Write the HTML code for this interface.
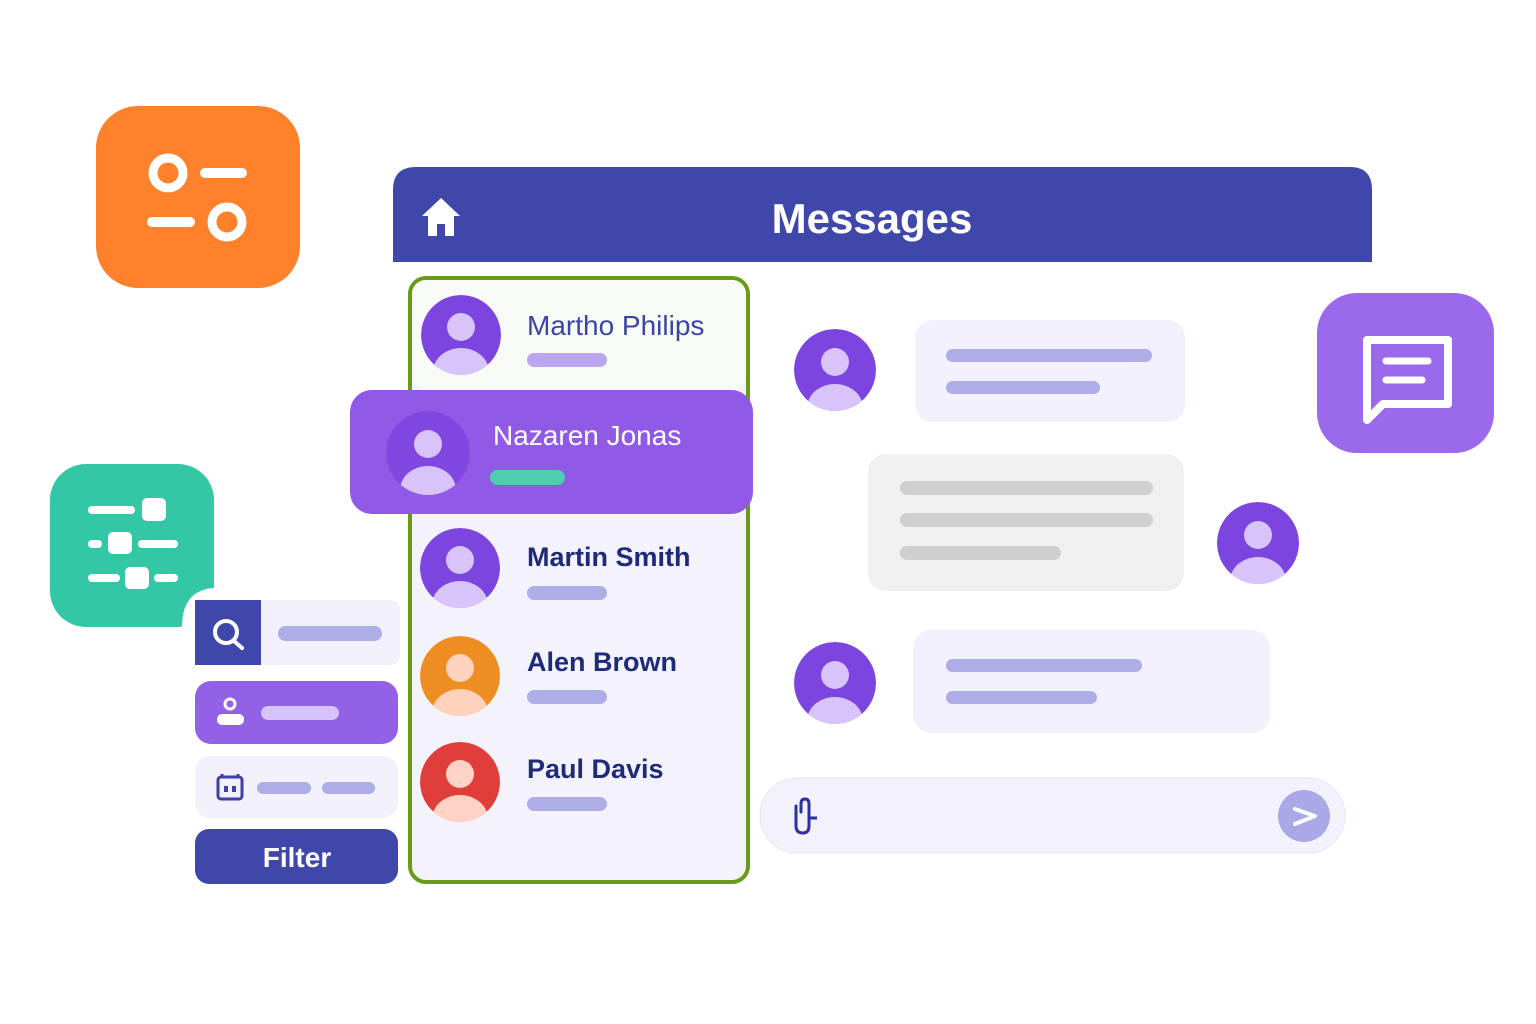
<!DOCTYPE html>
<html><head><meta charset="utf-8"><style>
html,body{margin:0;padding:0;background:#fff;width:1536px;height:1024px;overflow:hidden}
svg{display:block}
text{font-family:"Liberation Sans","DejaVu Sans",sans-serif}
</style></head><body>
<svg width="1536" height="1024" viewBox="0 0 1536 1024" xmlns="http://www.w3.org/2000/svg">
<defs>
<clipPath id="c1"><circle cx="461" cy="335" r="40"/></clipPath>
<clipPath id="c2"><circle cx="428" cy="453" r="42"/></clipPath>
<clipPath id="c3"><circle cx="460" cy="568" r="40"/></clipPath>
<clipPath id="c4"><circle cx="460" cy="676" r="40"/></clipPath>
<clipPath id="c5"><circle cx="460" cy="782" r="40"/></clipPath>
<clipPath id="c6"><circle cx="835" cy="370" r="41"/></clipPath>
<clipPath id="c7"><circle cx="1258" cy="543" r="41"/></clipPath>
<clipPath id="c8"><circle cx="835" cy="683" r="41"/></clipPath>
</defs>

<rect x="96" y="106" width="204" height="182" rx="42" fill="#FF812B"/>
<circle cx="168" cy="173" r="15" fill="none" stroke="#fff" stroke-width="9"/>
<line x1="205" y1="173" x2="242" y2="173" stroke="#fff" stroke-width="10" stroke-linecap="round"/>
<line x1="152" y1="222" x2="190" y2="222" stroke="#fff" stroke-width="10" stroke-linecap="round"/>
<circle cx="227" cy="222" r="15" fill="none" stroke="#fff" stroke-width="9"/>

<rect x="1317" y="293" width="177" height="160" rx="40" fill="#9B69EB"/>
<path d="M1367 420 V340 H1448 V404 H1383 Z" fill="none" stroke="#fff" stroke-width="8" stroke-linejoin="round"/>
<line x1="1386" y1="361" x2="1428" y2="361" stroke="#fff" stroke-width="7" stroke-linecap="round"/>
<line x1="1386" y1="380" x2="1422" y2="380" stroke="#fff" stroke-width="7" stroke-linecap="round"/>

<rect x="50" y="464" width="164" height="163" rx="36" fill="#34C7A6"/>
<line x1="92" y1="510" x2="131" y2="510" stroke="#fff" stroke-width="8" stroke-linecap="round"/>
<rect x="142" y="498" width="24" height="23" rx="5" fill="#fff"/>
<line x1="92" y1="544" x2="98" y2="544" stroke="#fff" stroke-width="8" stroke-linecap="round"/>
<rect x="108" y="532" width="24" height="22" rx="5" fill="#fff"/>
<line x1="142" y1="544" x2="174" y2="544" stroke="#fff" stroke-width="8" stroke-linecap="round"/>
<line x1="92" y1="578" x2="116" y2="578" stroke="#fff" stroke-width="8" stroke-linecap="round"/>
<rect x="125" y="567" width="24" height="22" rx="5" fill="#fff"/>
<line x1="158" y1="578" x2="174" y2="578" stroke="#fff" stroke-width="8" stroke-linecap="round"/>
<path d="M182 627 Q182 590 214 588 V627 Z" fill="#fff"/>

<rect x="195" y="600" width="205" height="65" rx="10" fill="#F1F0FB"/>
<path d="M195 600 H261 V665 H195 Z" fill="#3F47AA"/>
<circle cx="226" cy="632" r="11" fill="none" stroke="#fff" stroke-width="4"/>
<line x1="234" y1="641" x2="242" y2="648" stroke="#fff" stroke-width="4" stroke-linecap="round"/>
<rect x="278" y="626" width="104" height="15" rx="7.5" fill="#AEAEE6"/>
<rect x="195" y="681" width="203" height="63" rx="16" fill="#9261E6"/>
<circle cx="230" cy="704" r="5" fill="none" stroke="#fff" stroke-width="3"/>
<rect x="217" y="714" width="27" height="11" rx="5" fill="#fff"/>
<rect x="261" y="706" width="78" height="14" rx="7" fill="#D6C3FA"/>
<rect x="195" y="756" width="203" height="62" rx="16" fill="#F1F0FB"/>
<rect x="218" y="777" width="24" height="22" rx="3" fill="none" stroke="#3F3FA8" stroke-width="3"/>
<rect x="224" y="786" width="4" height="6" fill="#3F3FA8"/><rect x="232" y="786" width="4" height="6" fill="#3F3FA8"/>
<line x1="222" y1="774" x2="222" y2="778" stroke="#3F3FA8" stroke-width="3"/><line x1="238" y1="774" x2="238" y2="778" stroke="#3F3FA8" stroke-width="3"/>
<rect x="257" y="782" width="54" height="12" rx="6" fill="#AEAEE6"/>
<rect x="322" y="782" width="53" height="12" rx="6" fill="#AEAEE6"/>
<rect x="195" y="829" width="203" height="55" rx="14" fill="#3F47AA"/>
<text x="297" y="867" font-size="28" font-weight="bold" fill="#fff" text-anchor="middle">Filter</text>

<path d="M393 262 V190 Q393 167 416 167 H1350 Q1372 167 1372 190 V262 Z" fill="#3F47AA"/>
<path d="M441 198 L422 216 H428 V236 H437 V224 H445 V236 H454 V216 H460 Z" fill="#fff"/>
<text x="872" y="233" font-size="42" font-weight="bold" fill="#fff" text-anchor="middle">Messages</text>

<rect x="410" y="278" width="338" height="604" rx="16" fill="#F4F3FB" stroke="#6A9A1A" stroke-width="4"/>
<rect x="412" y="280" width="334" height="110" rx="14" fill="#F8FAF6"/>

<g clip-path="url(#c1)"><circle cx="461" cy="335" r="40" fill="#7C45E0"/><circle cx="461" cy="327" r="14" fill="#D8C4FA"/><ellipse cx="461" cy="372" rx="28" ry="24" fill="#D8C4FA"/></g>
<text x="527" y="335" font-size="28" fill="#3A45A5">Martho Philips</text>
<rect x="527" y="353" width="80" height="14" rx="7" fill="#B9A6EE"/>

<rect x="350" y="390" width="403" height="124" rx="22" fill="#9059E6"/>
<g clip-path="url(#c2)"><circle cx="428" cy="453" r="42" fill="#8048E0"/><circle cx="428" cy="444" r="14" fill="#D8C4FA"/><ellipse cx="428" cy="490" rx="28" ry="24" fill="#D8C4FA"/></g>
<text x="493" y="445" font-size="28" fill="#fff">Nazaren Jonas</text>
<rect x="490" y="470" width="75" height="15" rx="7.5" fill="#4ECDB1"/>

<g clip-path="url(#c3)"><circle cx="460" cy="568" r="40" fill="#7C45E0"/><circle cx="460" cy="560" r="14" fill="#D8C4FA"/><ellipse cx="460" cy="605" rx="28" ry="24" fill="#D8C4FA"/></g>
<text x="527" y="566" font-size="27" font-weight="bold" fill="#1E2A7A">Martin Smith</text>
<rect x="527" y="586" width="80" height="14" rx="7" fill="#AEAEE6"/>

<g clip-path="url(#c4)"><circle cx="460" cy="676" r="40" fill="#EE8E22"/><circle cx="460" cy="668" r="14" fill="#FFD2BE"/><ellipse cx="460" cy="713" rx="28" ry="24" fill="#FFD2BE"/></g>
<text x="527" y="671" font-size="27" font-weight="bold" fill="#1E2A7A">Alen Brown</text>
<rect x="527" y="690" width="80" height="14" rx="7" fill="#AEAEE6"/>

<g clip-path="url(#c5)"><circle cx="460" cy="782" r="40" fill="#E03E3A"/><circle cx="460" cy="774" r="14" fill="#FFD2C6"/><ellipse cx="460" cy="819" rx="28" ry="24" fill="#FFD2C6"/></g>
<text x="527" y="778" font-size="27" font-weight="bold" fill="#1E2A7A">Paul Davis</text>
<rect x="527" y="797" width="80" height="14" rx="7" fill="#AEAEE6"/>

<g clip-path="url(#c6)"><circle cx="835" cy="370" r="41" fill="#7C45E0"/><circle cx="835" cy="362" r="14" fill="#D8C4FA"/><ellipse cx="835" cy="408" rx="28" ry="24" fill="#D8C4FA"/></g>
<rect x="915" y="320" width="270" height="102" rx="18" fill="#F1F0FC"/>
<rect x="946" y="349" width="206" height="13" rx="6.5" fill="#AEAEE6"/>
<rect x="946" y="381" width="154" height="13" rx="6.5" fill="#AEAEE6"/>

<rect x="868" y="454" width="316" height="137" rx="18" fill="#F0F0F0"/>
<rect x="900" y="481" width="253" height="14" rx="7" fill="#CFCFCF"/>
<rect x="900" y="513" width="253" height="14" rx="7" fill="#CFCFCF"/>
<rect x="900" y="546" width="161" height="14" rx="7" fill="#CFCFCF"/>
<g clip-path="url(#c7)"><circle cx="1258" cy="543" r="41" fill="#7C45E0"/><circle cx="1258" cy="535" r="14" fill="#D8C4FA"/><ellipse cx="1258" cy="581" rx="28" ry="24" fill="#D8C4FA"/></g>

<g clip-path="url(#c8)"><circle cx="835" cy="683" r="41" fill="#7C45E0"/><circle cx="835" cy="675" r="14" fill="#D8C4FA"/><ellipse cx="835" cy="721" rx="28" ry="24" fill="#D8C4FA"/></g>
<rect x="913" y="630" width="357" height="103" rx="18" fill="#F1F0FC"/>
<rect x="946" y="659" width="196" height="13" rx="6.5" fill="#AEAEE6"/>
<rect x="946" y="691" width="151" height="13" rx="6.5" fill="#AEAEE6"/>

<rect x="760" y="778" width="585" height="75" rx="37" fill="#F2F1FC" stroke="#E8E6F6" stroke-width="1"/>
<path d="M801 812 V804 Q801 799 805 799 Q809 799 809 804 V826 Q809 833 803 833 Q796 833 796 826 V806" fill="none" stroke="#2F2FA0" stroke-width="3" stroke-linecap="round"/>
<line x1="810" y1="818" x2="817" y2="818" stroke="#2F2FA0" stroke-width="3"/>
<circle cx="1304" cy="816" r="26" fill="#AAA8E6"/>
<path d="M1295 809 L1315 816 L1295 824" fill="none" stroke="#fff" stroke-width="4" stroke-linecap="round" stroke-linejoin="round"/>
</svg>
</body></html>
